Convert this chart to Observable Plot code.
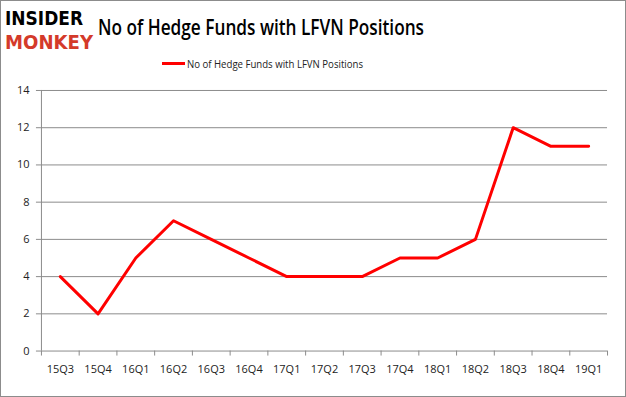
<!DOCTYPE html>
<html><head><meta charset="utf-8">
<script src="https://cdn.jsdelivr.net/npm/d3@7"></script>
<script src="https://cdn.jsdelivr.net/npm/@observablehq/plot@0.6"></script>
<style>
body{margin:0;background:#fff;}
#wrap{position:relative;width:624px;height:395px;border:1px solid #8c8c8c;overflow:hidden;font-family:"Open Sans",sans-serif;}
.fit{position:absolute;white-space:nowrap;transform-origin:0 0;}
#logo1{left:4px;top:5px;font-family:"DejaVu Sans";font-weight:900;font-size:20px;color:#000;line-height:normal;}
#logo2{left:4px;top:29px;font-family:"DejaVu Sans";font-weight:900;font-size:20px;color:#d43a2a;line-height:normal;}
#title{left:97px;top:10px;font-size:22px;font-weight:600;color:#000;line-height:30px;}
#legend{position:absolute;left:161px;top:55px;display:flex;align-items:center;}
#legend .sw{width:23px;height:3px;background:#ff0000;margin-right:2px;}
#legtext{font-size:11.5px;color:#222;white-space:nowrap;transform-origin:0 50%;}
#chart{position:absolute;left:-1px;top:79px;}
</style></head>
<body><div id="wrap">
<div id="logo1" class="fit">INSIDER</div>
<div id="logo2" class="fit">MONKEY</div>
<div id="title" class="fit">No of Hedge Funds with LFVN Positions</div>
<div id="legend"><div class="sw"></div><div id="legtext">No of Hedge Funds with LFVN Positions</div></div>
<div id="chart"></div>
</div>
<script>
const quarters = ["15Q3","15Q4","16Q1","16Q2","16Q3","16Q4","17Q1","17Q2","17Q3","17Q4","18Q1","18Q2","18Q3","18Q4","19Q1"];
const funds = [4,2,5,7,6,5,4,4,4,5,5,6,12,11,11];
const yTicks = [0,2,4,6,8,10,12,14];

function fitWidth(id, w){
  const el = document.getElementById(id);
  const r = el.getBoundingClientRect().width;
  el.style.transform = `scaleX(${w / r})`;
}
fitWidth("logo1", 78);
fitWidth("logo2", 88);
fitWidth("title", 326);
fitWidth("legtext", 176);

const data = quarters.map((q,i)=>({i, q, v: funds[i]}));
const bounds = d3.range(quarters.length + 1).map(i => i - 0.5);

const chart = Plot.plot({
  width: 626, height: 310,
  marginLeft: 41, marginRight: 18, marginTop: 10, marginBottom: 39,
  style: {fontFamily: "'Open Sans', sans-serif", fontSize: "11px", color: "#222", background: "transparent"},
  x: {type: "linear", domain: [-0.5, quarters.length - 0.5], ticks: d3.range(quarters.length),
      tickFormat: i => quarters[i], tickSize: 0, tickPadding: 14, label: null},
  y: {domain: [0, 14], ticks: yTicks, tickSize: 0, tickPadding: 12, label: null},
  marks: [
    Plot.ruleY(yTicks, {stroke: "#8c8c8c", strokeWidth: 1}),
    Plot.ruleY(yTicks, {x1: -0.5, x2: -0.5, insetLeft: -5, stroke: "#8c8c8c"}),
    Plot.ruleX([-0.5], {stroke: "#8c8c8c"}),
    Plot.ruleX(bounds, {y1: 0, y2: 0, insetBottom: -5, stroke: "#8c8c8c"}),
    Plot.line(data, {x: "i", y: "v", stroke: "#ff0000", strokeWidth: 3, strokeLinejoin: "round"})
  ]
});
document.getElementById("chart").appendChild(chart);
</script>
</body></html>
